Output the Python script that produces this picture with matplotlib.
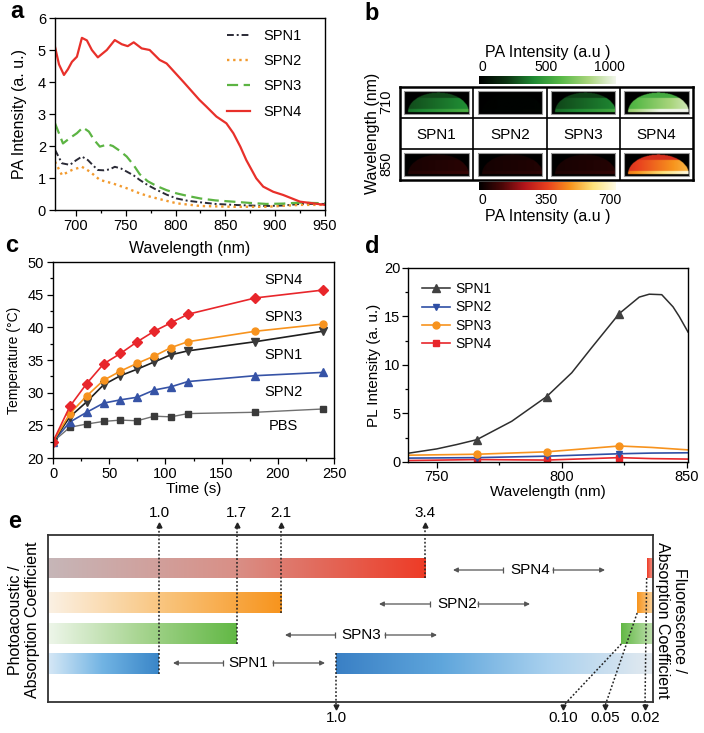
import numpy as np
import matplotlib
matplotlib.use('Agg')
import matplotlib.pyplot as plt
from matplotlib.colors import LinearSegmentedColormap
from matplotlib.patches import Rectangle

plt.rcParams['font.family'] = ['Liberation Sans', 'DejaVu Sans']
plt.rcParams['axes.linewidth'] = 1.0

# ------------------------------------------------------------------ data
# (a) PA spectra
a_wl_spn1 = [679, 686, 694, 700, 706, 712, 717, 722, 728, 734, 739, 745, 751, 758, 764,
             772, 781, 791, 801, 812, 825, 840, 858, 875, 891, 908, 925, 940, 950]
a_spn1 = [1.88, 1.46, 1.41, 1.55, 1.67, 1.56, 1.40, 1.25, 1.24, 1.27, 1.35, 1.30, 1.20, 1.08, 0.94,
          0.78, 0.63, 0.48, 0.36, 0.29, 0.24, 0.19, 0.16, 0.14, 0.125, 0.14, 0.19, 0.19, 0.19]
a_wl_spn2 = [679, 686, 696, 706, 714, 724, 737, 751, 764, 774, 788, 801, 825, 858, 891, 925, 950]
a_spn2 = [1.51, 1.09, 1.25, 1.35, 1.20, 0.94, 0.83, 0.68, 0.52, 0.42, 0.31, 0.21, 0.125, 0.10, 0.10, 0.16, 0.16]
a_wl_spn3 = [679, 687, 694, 701, 707, 713, 718, 724, 732, 737, 744, 751, 758, 764, 772, 781,
             791, 801, 812, 825, 840, 858, 875, 891, 908, 925, 950]
a_spn3 = [2.71, 2.08, 2.25, 2.40, 2.58, 2.45, 2.20, 1.98, 2.05, 2.00, 1.85, 1.67, 1.40, 1.12, 0.90, 0.75,
          0.62, 0.52, 0.44, 0.36, 0.30, 0.26, 0.22, 0.19, 0.20, 0.23, 0.21]
a_wl_spn4 = [679, 683, 688, 692, 696, 701, 706, 711, 716, 722, 731, 739, 746, 752, 758, 766, 774,
             784, 791, 808, 824, 831, 841, 851, 858, 865, 871, 881, 888, 898, 908, 925, 950]
a_spn4 = [5.10, 4.55, 4.22, 4.40, 4.63, 4.79, 5.38, 5.30, 5.00, 4.77, 5.00, 5.31, 5.18, 5.12, 5.24, 5.05, 5.00,
          4.69, 4.58, 4.00, 3.44, 3.23, 2.92, 2.71, 2.40, 1.98, 1.56, 0.99, 0.73, 0.57, 0.47, 0.26, 0.16]

# (b) PA images: mean intensity levels
b_samples = ['SPN1', 'SPN2', 'SPN3', 'SPN4']
b_rows = ['710', '850']
b_level_710 = [380, 15, 360, 820]     # scale 0-1000
b_level_850 = [60, 50, 55, 470]       # scale 0-700
b_ticks_710 = [0, 500, 1000]
b_ticks_850 = [0, 350, 700]

# (c) photothermal heating
c_time = [0, 15, 30, 45, 60, 75, 90, 105, 120, 180, 240]
c_spn4 = [22.5, 27.9, 31.4, 34.4, 36.0, 37.8, 39.4, 40.7, 42.0, 44.5, 45.7]
c_spn3 = [22.5, 26.8, 29.5, 31.9, 33.3, 34.5, 35.6, 36.9, 37.8, 39.4, 40.5]
c_spn1 = [22.5, 26.3, 28.6, 31.2, 32.6, 33.6, 34.7, 35.8, 36.4, 37.8, 39.4]
c_spn2 = [22.5, 25.5, 27.0, 28.4, 28.9, 29.3, 30.4, 30.9, 31.7, 32.6, 33.1]
c_pbs = [22.5, 24.7, 25.2, 25.6, 25.8, 25.7, 26.4, 26.3, 26.8, 27.0, 27.5]

# (d) PL spectra
d_marker_wl = [766, 794, 823]
d_wl_spn1 = [738.5, 750, 758, 766, 780, 794, 804, 812, 823, 831, 835, 840, 844.5, 847, 850.5]
d_spn1 = [0.9, 1.35, 1.8, 2.3, 4.2, 6.75, 9.2, 11.8, 15.3, 17.0, 17.3, 17.25, 16.0, 15.0, 13.4]
d_wl_other = [738.5, 766, 794, 823, 836, 850.5]
d_spn2 = [0.40, 0.45, 0.60, 0.85, 0.92, 0.95]
d_spn3 = [0.70, 0.80, 1.05, 1.65, 1.50, 1.25]
d_spn4 = [0.15, 0.25, 0.20, 0.45, 0.35, 0.30]

# (e) ratios (top to bottom)
e_samples = ['SPN4', 'SPN2', 'SPN3', 'SPN1']
e_pa = [3.4, 2.1, 1.7, 1.0]
e_fl = [0.02, 0.05, 0.10, 1.0]
e_fl_labels = ['0.02', '0.05', '0.10', '1.0']

# ------------------------------------------------------------------ figure
W, H = 704, 733
fig = plt.figure(figsize=(W / 100, H / 100), dpi=100)


def rect(x0, y0, x1, y1):
    return [x0 / W, 1 - y1 / H, (x1 - x0) / W, (y1 - y0) / H]


def ftext(x, y, s, **kw):
    kw.setdefault('ha', 'center')
    kw.setdefault('va', 'center')
    return fig.text(x / W, 1 - y / H, s, **kw)


def place_label(ax, axis, s, xp, yp, size):
    inv = ax.transAxes.inverted()
    ax_x, ax_y = inv.transform((xp, H - yp))
    if axis == 'y':
        ax.set_ylabel(s, fontsize=size, va='center', ha='center')
        ax.yaxis.set_label_coords(ax_x, 0.5)
    else:
        ax.set_xlabel(s, fontsize=size, va='center', ha='center')
        ax.xaxis.set_label_coords(0.5, ax_y)


def style_ticks(ax, size=10, pad=2.5):
    ax.tick_params(which='both', direction='out', labelsize=size, width=0.9, pad=pad)
    ax.tick_params(which='major', length=4)
    ax.tick_params(which='minor', length=2)


for lx, ly, s in [(17, 12, 'a'), (372, 14, 'b'), (12, 246, 'c'), (372, 247, 'd'), (15, 522, 'e')]:
    ftext(lx, ly, s, fontsize=17, fontweight='bold')

# ------------------------------------------------------------------ (a)
axa = fig.add_axes(rect(55, 18, 325, 210))
axa.plot(a_wl_spn1, a_spn1, color='#2a2a36', lw=1.4, ls=(0, (3.5, 1.5, 1, 1.5)), label='SPN1')
axa.plot(a_wl_spn2, a_spn2, color='#f29a2e', lw=1.7, ls=(0, (1, 1.6)), label='SPN2')
axa.plot(a_wl_spn3, a_spn3, color='#5cb443', lw=1.6, ls=(0, (5, 2.5)), label='SPN3')
axa.plot(a_wl_spn4, a_spn4, color='#e8302a', lw=1.6, label='SPN4')
axa.set_xlim(679, 950)
axa.set_ylim(0, 6)
axa.set_xticks([700, 750, 800, 850, 900, 950])
axa.set_xticks([725, 775, 825, 875, 925], minor=True)
axa.set_yticks(range(7))
style_ticks(axa, 10.5)
axa.legend(loc='upper left', bbox_to_anchor=(0.615, 0.975), frameon=False, fontsize=10.5,
           handlelength=1.6, labelspacing=0.78, handletextpad=0.9, borderaxespad=0)
place_label(axa, 'y', 'PA Intensity (a. u.)', 20, 114, 11.5)
place_label(axa, 'x', 'Wavelength (nm)', 190, 249, 11.5)

# ------------------------------------------------------------------ (b)
cm_green = LinearSegmentedColormap.from_list('g', ['#000000', '#0c3312', '#1f8a33', '#58b947', '#a9d57c', '#f2f6ec'])
cm_hot = LinearSegmentedColormap.from_list('h', ['#000000', '#4a0707', '#b3151b', '#e8401f', '#f7941d', '#fde27a', '#fffbe6'])

axb = fig.add_axes(rect(400, 87, 693, 180))
ny, nx = 50, 160
u = np.linspace(0, 1, nx)[None, :]
v = np.linspace(0, 1, ny)[:, None]
top_edge = 0.92 - 0.86 * np.sqrt(np.clip(1 - ((u - 0.53) / 0.47) ** 2, 0, 1))
dome = (v >= top_edge) & (v <= 0.93)
rim = (v > 0.78) & dome
shade = 0.65 + 0.45 * u * (v > 0.3)

rows = [(b_level_710, cm_green, 1000, 0), (b_level_850, cm_hot, 700, 2)]
mx, my = 0.06, 0.14
for levels, cmap, vmax, r in rows:
    for c, lev in enumerate(levels):
        img = lev * shade * dome
        img = np.where(rim, img * 1.35, img)
        axb.imshow(img, cmap=cmap, vmin=0, vmax=vmax, aspect='auto', interpolation='bilinear',
                   extent=(c + mx, c + 1 - mx, r + 1 - my, r + my))
        axb.add_patch(Rectangle((c + mx, r + my), 1 - 2 * mx, 1 - 2 * my, fill=False,
                                ec='#9a9a9a', lw=0.8))
for c, s in enumerate(b_samples):
    axb.text(c + 0.5, 1.55, s, ha='center', va='center', fontsize=11)
for c in (1, 2, 3):
    axb.axvline(c, color='black', lw=1.2)
for r in (1, 2):
    axb.axhline(r, color='black', lw=1.2)
axb.set_xlim(0, 4)
axb.set_ylim(3, 0)
axb.set_xticks([])
axb.set_yticks([])
for sp in axb.spines.values():
    sp.set_linewidth(1.8)
ftext(386, 102, b_rows[0], rotation=90, fontsize=10.5)
ftext(386, 164, b_rows[1], rotation=90, fontsize=10.5)
ftext(372, 133, 'Wavelength (nm)', rotation=90, fontsize=11.5)

grad = np.linspace(0, 1, 256)[None, :]
cb1 = fig.add_axes(rect(479, 76, 616, 84))
cb1.imshow(grad, cmap=cm_green, aspect='auto', extent=(-30, 1050, 0, 1))
cb1.set_xlim(-30, 1050)
cb1.set_yticks([])
cb1.set_xticks(b_ticks_710)
cb1.xaxis.tick_top()
cb1.tick_params(length=0, labelsize=10, pad=1.5)
for sp in cb1.spines.values():
    sp.set_visible(False)
ftext(548, 52, 'PA Intensity (a.u )', fontsize=11.5)

cb2 = fig.add_axes(rect(479, 182, 616, 190))
cb2.imshow(grad, cmap=cm_hot, aspect='auto', extent=(-21, 735, 0, 1))
cb2.set_xlim(-21, 735)
cb2.set_yticks([])
cb2.set_xticks(b_ticks_850)
cb2.tick_params(length=0, labelsize=10, pad=2.5)
for sp in cb2.spines.values():
    sp.set_visible(False)
ftext(548, 216, 'PA Intensity (a.u )', fontsize=11.5)

# ------------------------------------------------------------------ (c)
axc = fig.add_axes(rect(53, 262, 334, 458))
axc.plot(c_time, c_pbs, color='#707070', lw=1, marker='s', ms=4.8, mfc='#3a3a3a', mec='#3a3a3a')
axc.plot(c_time, c_spn2, color='#3653a6', lw=1.2, marker='^', ms=5.5)
axc.plot(c_time, c_spn1, color='#1e1e1e', lw=1.2, marker='v', ms=5.5, mfc='#3a3a3a', mec='#3a3a3a')
axc.plot(c_time, c_spn3, color='#f7931e', lw=1.2, marker='o', ms=5)
axc.plot(c_time, c_spn4, color='#e8262b', lw=1.2, marker='D', ms=4.6)
axc.set_xlim(0, 250)
axc.set_ylim(20, 50)
axc.set_xticks(range(0, 251, 50))
axc.set_xticks(range(25, 250, 50), minor=True)
axc.set_yticks(range(20, 51, 5))
axc.set_yticks(np.arange(22.5, 50, 5), minor=True)
style_ticks(axc, 10.5)
for s, ty in [('SPN4', 47.2), ('SPN3', 41.6), ('SPN1', 35.8), ('SPN2', 30.1), ('PBS', 24.9)]:
    axc.text(205, ty, s, ha='center', va='center', fontsize=10.5)
place_label(axc, 'y', 'Temperature (°C)', 14, 360, 10)
place_label(axc, 'x', 'Time (s)', 190, 489, 11)

# ------------------------------------------------------------------ (d)
axd = fig.add_axes(rect(408, 268, 688, 462))


def marks(wl):
    return [i for i, w in enumerate(wl) if w in d_marker_wl]


axd.plot(d_wl_other, d_spn4, color='#e8262b', lw=1.2, marker='s', ms=4.5, markevery=marks(d_wl_other), label='SPN4')
axd.plot(d_wl_other, d_spn2, color='#2f4fa5', lw=1.2, marker='v', ms=5, markevery=marks(d_wl_other), label='SPN2')
axd.plot(d_wl_other, d_spn3, color='#f7931e', lw=1.2, marker='o', ms=5, markevery=marks(d_wl_other), label='SPN3')
axd.plot(d_wl_spn1, d_spn1, color='#2e2e2e', lw=1.1, marker='^', ms=5.5, mfc='#404040', mec='#404040',
         markevery=marks(d_wl_spn1), label='SPN1')
axd.set_xlim(738.5, 850.5)
axd.set_ylim(0, 20)
axd.set_xticks([750, 800, 850])
axd.set_xticks([775, 825], minor=True)
axd.set_yticks(range(0, 21, 5))
axd.set_yticks(np.arange(2.5, 20, 5), minor=True)
style_ticks(axd, 10.5, pad=1.5)
h, l = axd.get_legend_handles_labels()
order = [3, 1, 2, 0]
axd.legend([h[i] for i in order], [l[i] for i in order], loc='upper left', bbox_to_anchor=(0.03, 0.955),
           frameon=False, fontsize=10, handlelength=2.0, labelspacing=0.3, handletextpad=0.4, borderaxespad=0)
place_label(axd, 'y', 'PL Intensity (a. u.)', 374, 365, 11)
place_label(axd, 'x', 'Wavelength (nm)', 548, 492, 11)

# ------------------------------------------------------------------ (e)
axe = fig.add_axes(rect(48, 535, 653, 702))
XR = 605.0       # right edge
sL, sR = 111.0, 317.0
bar_y = [(23, 43), (57, 78), (88, 109), (118, 139)]
left_cols = [['#c6b6b8', '#d98f86', '#ee3b26'],
             ['#fbf1e4', '#f9c47c', '#f7941d'],
             ['#eef6ea', '#a6d48f', '#62b845'],
             ['#d6e8f6', '#70b3e3', '#3a86c8']]
right_cols = [['#ee3b26', '#f5a79c'],
              ['#f7941d', '#fbd39c'],
              ['#62b845', '#bfe0ae'],
              ['#3a80c5', '#5fa6dc', '#a8d0ee', '#e3eaf0']]
for i in range(4):
    y0, y1 = bar_y[i]
    cmL = LinearSegmentedColormap.from_list('L%d' % i, left_cols[i])
    axe.imshow(grad, cmap=cmL, aspect='auto', extent=(0, e_pa[i] * sL, y1, y0))
    cmR = LinearSegmentedColormap.from_list('R%d' % i, right_cols[i])
    axe.imshow(grad, cmap=cmR, aspect='auto', extent=(XR - e_fl[i] * sR, XR, y1, y0))

dot = dict(color='#222222', lw=1.1, ls=(0, (1.2, 1.3)), clip_on=False)
# PA values (top)
for i in range(4):
    x = e_pa[i] * sL
    axe.plot([x, x], [bar_y[i][1], -9], **dot)
    axe.plot([x], [-10], marker='^', ms=3.5, color='#222222', clip_on=False)
    axe.text(x, -22, '%.1f' % e_pa[i], ha='center', va='center', fontsize=11, clip_on=False)
# fluorescence values (bottom)
fl_label_x = [597, 557, 515, 288]
for i in range(4):
    xs = XR - e_fl[i] * sR
    yb = bar_y[i][1] if i < 3 else bar_y[i][0]
    xe = fl_label_x[i]
    axe.plot([xs, xe], [yb, 171], **dot)
    axe.plot([xe], [172], marker='v', ms=3.5, color='#222222', clip_on=False)
    axe.text(xe, 183, e_fl_labels[i], ha='center', va='center', fontsize=11, clip_on=False)

# double arrows with labels
arrow_pos = [(482, 35, 405, 455, 505, 557),
             (409, 69, 331, 382, 430, 482),
             (313, 100, 237, 287, 337, 389),
             (200, 128, 125, 175, 225, 277)]
ac = '#555555'
for (cx, cy, a0, a1, b0, b1), s in zip(arrow_pos, e_samples):
    axe.text(cx, cy, s, ha='center', va='center', fontsize=11)
    axe.annotate('', xy=(a0, cy), xytext=(a1, cy),
                 arrowprops=dict(arrowstyle='-|>', color=ac, lw=0.9, shrinkA=0, shrinkB=0, mutation_scale=7))
    axe.annotate('', xy=(b1, cy), xytext=(b0, cy),
                 arrowprops=dict(arrowstyle='-|>', color=ac, lw=0.9, shrinkA=0, shrinkB=0, mutation_scale=7))
    axe.plot([a1, b0], [cy, cy], ls='none', marker='|', ms=5, mew=0.9, color=ac)

axe.set_xlim(0, XR)
axe.set_ylim(167, 0)
axe.set_xticks([])
axe.set_yticks([])
for sp in axe.spines.values():
    sp.set_linewidth(1.3)
    sp.set_color('#333333')
ftext(24, 620, 'Photoacoustic /\nAbsorption Coefficient', rotation=90, fontsize=11.5, linespacing=1.1)
ftext(671, 620, 'Fluorescence /\nAbsorption Coefficient', rotation=270, fontsize=11.5, linespacing=1.1)

fig.savefig('out.png', dpi=100)
